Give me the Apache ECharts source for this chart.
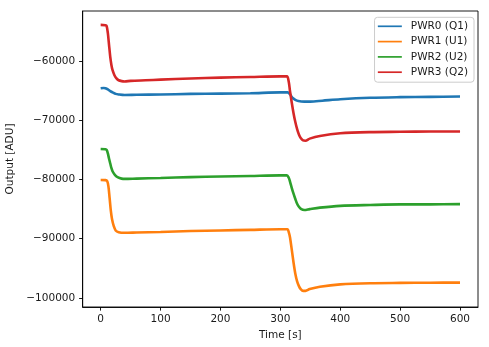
<!DOCTYPE html>
<html>
<head>
<meta charset="utf-8">
<script src="https://cdn.jsdelivr.net/npm/echarts@6/dist/echarts.min.js"></script>
<style>html,body{margin:0;padding:0;background:#fff;}#c{width:489px;height:347px;}</style>
</head>
<body>
<div id="c"></div>
<script>
// Tick labels
const xTicks = [0, 100, 200, 300, 400, 500, 600];
const yTicks = [-100000, -90000, -80000, -70000, -60000];
const seriesNames = ['PWR0 (Q1)', 'PWR1 (U1)', 'PWR2 (U2)', 'PWR3 (Q2)'];

// [time s, output ADU]
const pwr0 = [[0,-64600],[5,-64550],[8,-64600],[12,-64800],[16,-65100],[20,-65300],[25,-65550],[30,-65650],[40,-65750],[60,-65700],[100,-65650],[150,-65550],[200,-65500],[250,-65450],[300,-65300],[312,-65300],[316,-65600],[320,-66200],[325,-66550],[330,-66750],[340,-66850],[350,-66850],[370,-66700],[400,-66450],[450,-66200],[500,-66100],[550,-66050],[600,-66000]];
const pwr1 = [[0,-80080],[8,-80100],[11,-80300],[13,-81200],[15,-83200],[17,-85300],[19,-86700],[22,-87900],[25,-88600],[30,-88900],[40,-89000],[60,-88950],[100,-88850],[150,-88700],[200,-88600],[250,-88500],[300,-88400],[312,-88400],[314,-88900],[316,-89700],[319,-91800],[322,-94000],[325,-95900],[328,-97200],[331,-98000],[334,-98500],[338,-98800],[342,-98800],[349,-98500],[366,-98100],[400,-97700],[450,-97500],[500,-97450],[550,-97420],[600,-97400]];
const pwr2 = [[0,-74850],[8,-74900],[10,-75000],[12,-75600],[14,-76500],[16,-77300],[18,-78100],[20,-78650],[24,-79250],[29,-79650],[35,-79850],[40,-79900],[60,-79850],[100,-79750],[150,-79600],[200,-79500],[250,-79400],[300,-79300],[311,-79300],[314,-79700],[316,-80300],[319,-81400],[322,-82400],[325,-83300],[328,-84100],[331,-84600],[335,-85000],[340,-85150],[349,-85000],[366,-84750],[400,-84450],[450,-84300],[500,-84200],[550,-84200],[600,-84150]];
const pwr3 = [[0,-53900],[8,-53950],[10,-54100],[12,-55300],[14,-57300],[16,-59300],[18,-60700],[20,-61600],[23,-62400],[26,-62900],[30,-63250],[35,-63400],[40,-63450],[50,-63350],[75,-63250],[100,-63150],[150,-62950],[200,-62800],[250,-62700],[300,-62600],[311,-62600],[314,-63500],[316,-65000],[319,-67000],[322,-68800],[325,-70300],[328,-71500],[331,-72400],[334,-73000],[338,-73400],[342,-73450],[349,-73100],[366,-72650],[400,-72200],[450,-72000],[500,-71950],[550,-71900],[600,-71900]];

const colors = ['#1f77b4', '#ff7f0e', '#2ca02c', '#d62728'];
const allData = [pwr0, pwr1, pwr2, pwr3];
const FONT = 'DejaVu Sans';
const fmt = v => String(v).replace('-', '\u2212');

const chart = echarts.init(document.getElementById('c'), null, {renderer: 'canvas'});
chart.setOption({
  animation: false,
  backgroundColor: '#fff',
  color: colors,
  grid: {left: 82.7, right: 11, top: 11, bottom: 40, containLabel: false, outerBoundsMode: 'none', show: true, borderColor: '#000', borderWidth: 0.9, backgroundColor: 'transparent'},
  legend: {
    orient: 'vertical', right: 15, top: 17.3,
    data: seriesNames,
    icon: 'rect', itemWidth: 24, itemHeight: 1.7, itemGap: 3.3,
    padding: [3, 6, 4, 3.3],
    backgroundColor: 'rgba(255,255,255,0.8)', borderColor: '#cccccc', borderWidth: 1, borderRadius: 3,
    textStyle: {fontFamily: FONT, fontSize: 10.5, color: '#1a1a1a', lineHeight: 12, padding: [0, 0, 0, 4]}
  },
  xAxis: {
    type: 'value', min: -30, max: 630,
    name: 'Time [s]', nameLocation: 'middle', nameGap: 20,
    nameTextStyle: {fontFamily: FONT, fontSize: 10.5, color: '#1a1a1a'},
    axisLine: {show: true, onZero: false, lineStyle: {color: '#000', width: 0.9}},
    axisTick: {show: true, length: 3.6, lineStyle: {color: '#000', width: 0.9}, customValues: xTicks},
    axisLabel: {customValues: xTicks, formatter: fmt, margin: 6.5, fontFamily: FONT, fontSize: 10.5, color: '#1a1a1a'},
    splitLine: {show: false}
  },
  yAxis: {
    type: 'value', min: -101520, max: -51560,
    name: 'Output [ADU]', nameLocation: 'middle', nameGap: 62,
    nameTextStyle: {fontFamily: FONT, fontSize: 10.5, color: '#1a1a1a'},
    axisLine: {show: true, onZero: false, lineStyle: {color: '#000', width: 0.9}},
    axisTick: {show: true, length: 3.6, lineStyle: {color: '#000', width: 0.9}, customValues: yTicks},
    axisLabel: {customValues: yTicks, formatter: fmt, margin: 7.5, fontFamily: FONT, fontSize: 10.5, color: '#1a1a1a'},
    splitLine: {show: false}
  },
  series: allData.map((d, i) => ({
    name: seriesNames[i], type: 'line', data: d, symbol: 'none', showSymbol: false,
    smooth: 0.3,
    lineStyle: {width: 2.6, color: colors[i]},
    itemStyle: {color: colors[i]}
  }))
});
</script>
</body>
</html>
